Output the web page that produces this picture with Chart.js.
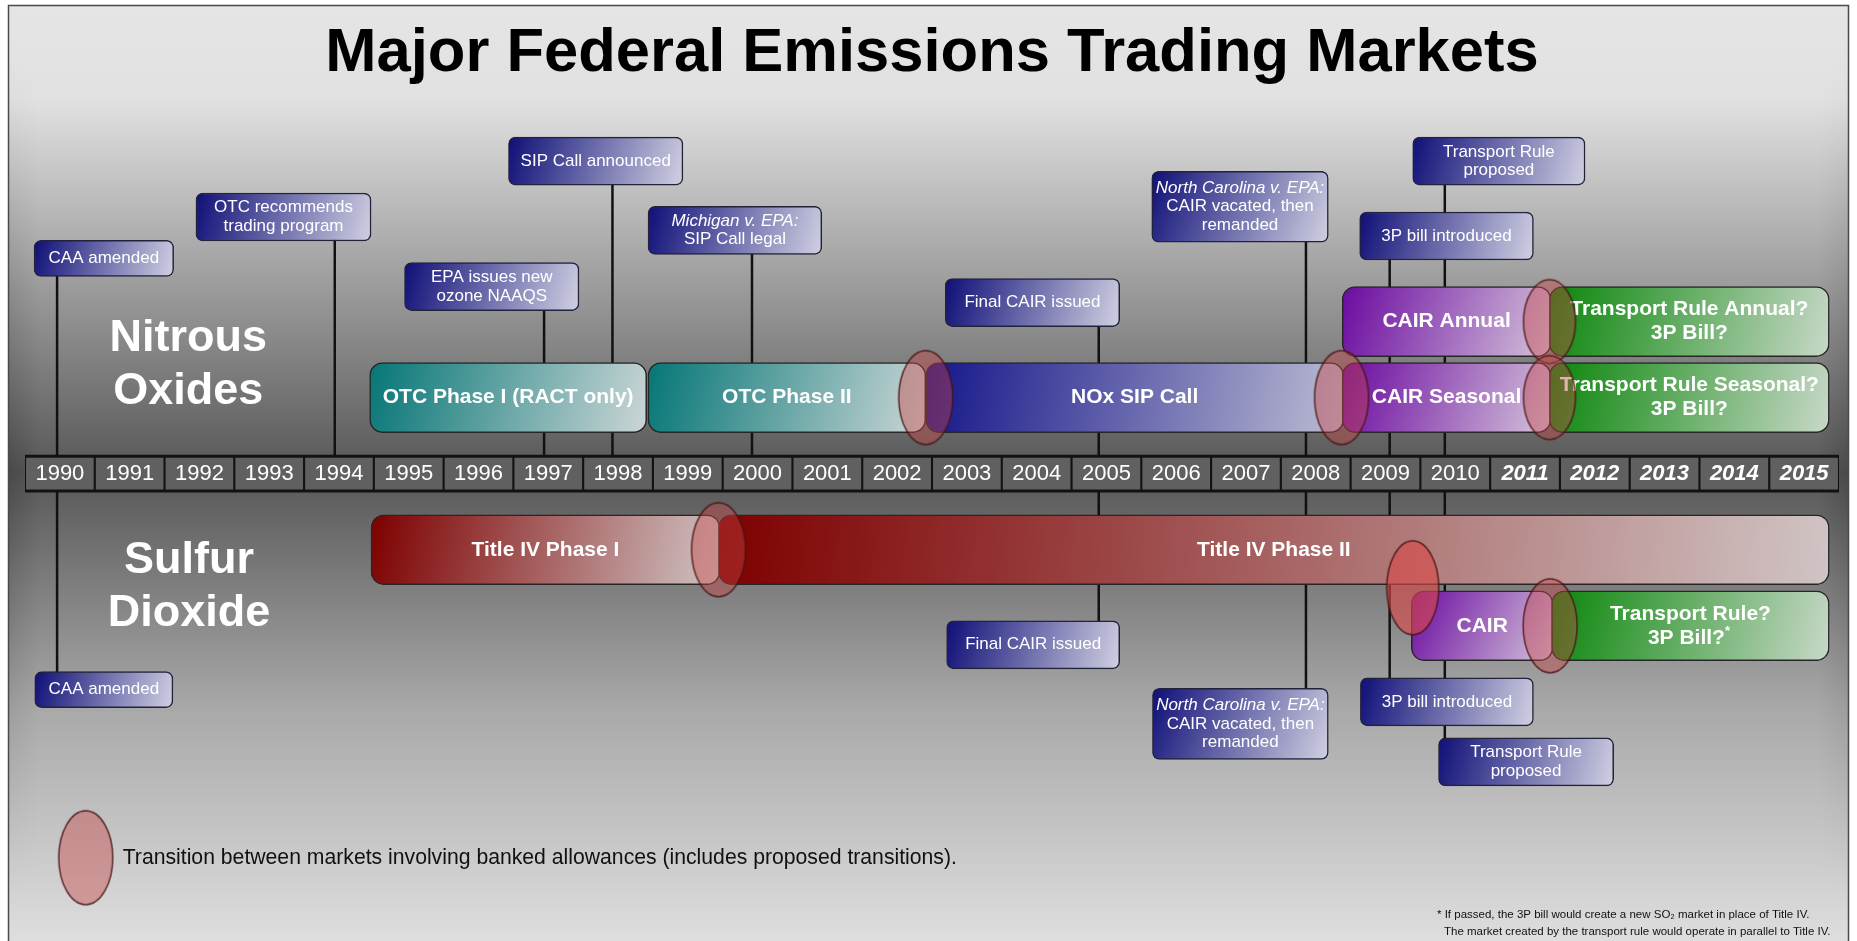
<!DOCTYPE html>
<html>
<head>
<meta charset="utf-8">
<title>Major Federal Emissions Trading Markets</title>
<script src="https://cdn.jsdelivr.net/npm/chart.js@4.4.0/dist/chart.umd.min.js"></script>
<style>
  html, body { margin: 0; padding: 0; background: #fff; }
  #wrap { position: relative; width: 1857px; height: 941px; }
</style>
</head>
<body>
<div id="wrap"><canvas id="chart"></canvas></div>
<script>
const FONT = '"Liberation Sans", Arial, Helvetica, sans-serif'

// timeline
const years = [1990, 1991, 1992, 1993, 1994, 1995, 1996, 1997, 1998, 1999, 2000, 2001, 2002,
               2003, 2004, 2005, 2006, 2007, 2008, 2009, 2010, 2011, 2012, 2013, 2014, 2015]
const yearLabels = ['1990', '1991', '1992', '1993', '1994', '1995', '1996', '1997', '1998', '1999', '2000', '2001', '2002',
                    '2003', '2004', '2005', '2006', '2007', '2008', '2009', '2010', '2011', '2012', '2013', '2014', '2015']
const proposedFrom = 2011

// markets (row: 1/2 = NOx lanes, -1/-2 = SO2 lanes)
const marketNames = ['OTC Phase I (RACT only)', 'OTC Phase II', 'NOx SIP Call', 'CAIR Seasonal',
                     'Transport Rule Seasonal?\n3P Bill?', 'CAIR Annual', 'Transport Rule Annual?\n3P Bill?',
                     'Title IV Phase I', 'Title IV Phase II', 'CAIR', 'Transport Rule?\n3P Bill?*']
const marketStart = [1994.44, 1998.43, 2002.41, 2008.38, 2011.35, 2008.38, 2011.35, 1994.46, 1999.44, 2009.37, 2011.38]
const marketEnd   = [1998.41, 2002.41, 2008.40, 2011.37, 2015.36, 2011.37, 2015.36, 1999.46, 2015.36, 2011.40, 2015.36]
const marketRow   = [1, 1, 1, 1, 1, 2, 2, -1, -1, -2, -2]
const marketProgram = ['OTC', 'OTC', 'SIP', 'CAIR', 'TR', 'CAIR', 'TR', 'TitleIV', 'TitleIV', 'CAIR', 'TR']

// transitions with banked allowances
const transitionYears = [2002.41, 2008.37, 2011.35, 2011.35, 1999.44, 2009.39, 2011.36]
const transitionRows  = [1, 1, 2, 1, -1, -1.5, -2]

// events
const eventLabels = [
  'CAA amended', 'OTC recommends\ntrading program', 'EPA issues new\nozone NAAQS', 'SIP Call announced',
  'Michigan v. EPA:\nSIP Call legal', 'Final CAIR issued', 'North Carolina v. EPA:\nCAIR vacated, then\nremanded',
  '3P bill introduced', 'Transport Rule\nproposed',
  'CAA amended', 'Final CAIR issued', 'North Carolina v. EPA:\nCAIR vacated, then\nremanded',
  '3P bill introduced', 'Transport Rule\nproposed'
]
const eventYears = [1989.96, 1993.94, 1996.94, 1997.92, 1999.92, 2004.89, 2007.86, 2009.06, 2009.85,
                    1989.96, 2004.89, 2007.86, 2009.06, 2009.85]

const regionNames = ['Nitrous\nOxides', 'Sulfur\nDioxide']
const legendText = 'Transition between markets involving banked allowances (includes proposed transitions).'
const footnote = ['* If passed, the 3P bill would create a new SO\u2082 market in place of Title IV.',
                  'The market created by the transport rule would operate in parallel to Title IV.']

// ---- layout / styling ----
// event boxes: [left, right] in years, lane, box size
const boxSpots = [
  [1989.63, 1991.63, 2.83, 'sm'], [1991.95, 1994.46, 3.375, 'md'], [1994.94, 1997.44, 2.46, 'md'],
  [1996.43, 1998.93, 4.11, 'md'], [1998.43, 2000.92, 3.2, 'md'], [2002.69, 2005.19, 2.25, 'md'],
  [2005.65, 2008.18, 3.51, 'lg'], [2008.63, 2011.12, 3.125, 'md'], [2009.39, 2011.86, 4.11, 'md'],
  [1989.64, 1991.62, -2.84, 'sm'], [2002.71, 2005.19, -2.25, 'md'], [2005.66, 2008.18, -3.29, 'lg'],
  [2008.64, 2011.12, -3.0, 'md'], [2009.76, 2012.27, -3.79, 'md']
]
const boxHeights = { sm: 36, md: 48, lg: 71 }
const regionSpots = [[1991.84, 1.43], [1991.85, -1.49]]
const legendSpot = [1990.37, -5.05]
const marketThickness = 70

const programColors = {
  OTC: ['#067676', '#cbd6d6'],
  SIP: ['#15158a', '#bcbcd3'],
  CAIR: ['#6b0aa0', '#d4c4da'],
  TR: ['#0a860a', '#c8d8c8'],
  TitleIV: ['#7e0000', '#d0c4c4'],
}
const eventColors = ['#0f0f78', '#d0d0e2']
const transitionLook = ['std', 'std', 'short', 'short', 'std', 'red', 'std']

function ellipseImage(rx, ry, fill, stroke) {
  const c = document.createElement('canvas')
  c.width = rx * 2 + 4
  c.height = ry * 2 + 4
  const g = c.getContext('2d')
  g.beginPath()
  g.ellipse(rx + 2, ry + 2, rx, ry, 0, 0, Math.PI * 2)
  g.fillStyle = fill
  g.fill()
  g.lineWidth = 1.5
  g.strokeStyle = stroke
  g.stroke()
  return c
}
const ellipses = {
  std: ellipseImage(27, 47, 'rgba(200,70,70,0.42)', 'rgba(70,20,20,0.85)'),
  short: ellipseImage(26, 42, 'rgba(200,70,70,0.42)', 'rgba(70,20,20,0.85)'),
  red: ellipseImage(26, 47, 'rgba(218,72,72,0.62)', 'rgba(70,20,20,0.85)'),
}

// gradient over a box, dark at the start, light at the end
function shade(c, from, to, lane, thick, colors) {
  const chart = c.chart
  if (!chart.chartArea) return colors[0]
  const xs = chart.scales.x, ys = chart.scales.y
  const x0 = xs.getPixelForValue(from), x1 = xs.getPixelForValue(to)
  const yc = ys.getPixelForValue(lane)
  const g = chart.ctx.createLinearGradient(x0, yc - thick / 2, x1, yc + thick / 2)
  g.addColorStop(0, colors[0])
  g.addColorStop(1, colors[1])
  return g
}

function writeLines(ctx, lines, cx, cy, lineH, fontFor) {
  const top = cy - (lines.length - 1) * lineH / 2
  lines.forEach((line, k) => {
    ctx.font = fontFor(line)
    if (line.endsWith('*')) {
      // small raised asterisk
      const body = line.slice(0, -1)
      const w = ctx.measureText(body).width
      ctx.fillText(body, cx - 4, top + k * lineH)
      const f = ctx.font
      ctx.font = f.replace(/\d+(\.\d+)?px/, '13px')
      ctx.textAlign = 'left'
      ctx.fillText('*', cx - 4 + w / 2, top + k * lineH - 6)
      ctx.textAlign = 'center'
      ctx.font = f
      return
    }
    ctx.fillText(line, cx, top + k * lineH)
  })
}

const backdrop = {
  id: 'backdrop',
  beforeDraw(chart) {
    const { ctx, width, height } = chart
    ctx.save()
    ctx.fillStyle = '#fff'
    ctx.fillRect(0, 0, width, height)
    const g = ctx.createLinearGradient(0, 5, 0, height)
    g.addColorStop(0, '#e5e5e5')
    g.addColorStop(0.1, '#e1e1e1')
    g.addColorStop(0.5, '#575757')
    g.addColorStop(0.75, '#a8a8a8')
    g.addColorStop(1, '#dedede')
    ctx.fillStyle = g
    ctx.fillRect(9, 6, width - 18, height)
    // darker strips along the side edges, strongest around the middle
    const l = ctx.createLinearGradient(9, 0, 40, 0)
    l.addColorStop(0, 'rgba(0,0,0,0.16)')
    l.addColorStop(1, 'rgba(0,0,0,0)')
    const r = ctx.createLinearGradient(width - 9, 0, width - 40, 0)
    r.addColorStop(0, 'rgba(0,0,0,0.16)')
    r.addColorStop(1, 'rgba(0,0,0,0)')
    for (let y = 6; y < height; y += 4) {
      const t = Math.max(0, 1 - Math.abs(y - 474) / 420)
      ctx.globalAlpha = t
      ctx.fillStyle = l
      ctx.fillRect(9, y, 31, 4)
      ctx.fillStyle = r
      ctx.fillRect(width - 40, y, 31, 4)
    }
    ctx.globalAlpha = 1
    ctx.strokeStyle = '#4a4a4a'
    ctx.lineWidth = 1.5
    ctx.strokeRect(8.5, 5.5, width - 17, height + 10)
    ctx.restore()
  }
}

const texts = {
  id: 'texts',
  afterDatasetDraw(chart, args) {
    const ds = chart.data.datasets[args.index]
    const ctx = chart.ctx
    ctx.save()
    ctx.fillStyle = '#fff'
    ctx.textAlign = 'center'
    ctx.textBaseline = 'middle'
    if (ds.role === 'markets') {
      args.meta.data.forEach((bar, i) => {
        writeLines(ctx, marketNames[i].split('\n'), (bar.x + bar.base) / 2, bar.y, 24, () => `bold 21px ${FONT}`)
      })
    }
    if (ds.role === 'events') {
      args.meta.data.forEach((box, j) => {
        const lines = eventLabels[ds.members[j]].split('\n')
        writeLines(ctx, lines, (box.x + box.base) / 2, box.y, 18.5,
          line => (line.endsWith(':') ? 'italic ' : '') + `17px ${FONT}`)
      })
    }
    ctx.restore()
  },
  afterDraw(chart) {
    const ctx = chart.ctx
    const xs = chart.scales.x, ys = chart.scales.y
    ctx.save()
    ctx.textBaseline = 'middle'

    // pollutant names
    ctx.fillStyle = '#fff'
    ctx.textAlign = 'center'
    regionNames.forEach((name, i) => {
      writeLines(ctx, name.split('\n'), xs.getPixelForValue(regionSpots[i][0]), ys.getPixelForValue(regionSpots[i][1]),
        53, () => `bold 45px ${FONT}`)
    })

    // legend
    const lx = xs.getPixelForValue(legendSpot[0]), ly = ys.getPixelForValue(legendSpot[1])
    const img = ellipses.std
    ctx.drawImage(img, lx - img.width / 2, ly - img.height / 2)
    ctx.fillStyle = '#111'
    ctx.textAlign = 'left'
    ctx.font = `21.2px ${FONT}`
    ctx.fillText(legendText, lx + 37, ly)

    // footnote
    ctx.font = `11.5px ${FONT}`
    ctx.fillText(footnote[0], chart.width - 420, chart.height - 26)
    ctx.fillText(footnote[1], chart.width - 413, chart.height - 9)
    ctx.restore()
  }
}

// vertical connectors from the year row to each event box
const connectorPoints = []
eventYears.forEach((yr, i) => {
  connectorPoints.push({ x: yr, y: 0 }, { x: yr, y: boxSpots[i][2] }, { x: yr, y: null })
})

const eventDatasets = ['sm', 'md', 'lg'].map(size => {
  const members = eventLabels.map((_, i) => i).filter(i => boxSpots[i][3] === size)
  return {
    role: 'events', members, type: 'bar', stack: 'all', order: 2,
    barThickness: boxHeights[size],
    data: members.map(i => ({ x: [boxSpots[i][0], boxSpots[i][1]], y: boxSpots[i][2] })),
    backgroundColor: c => {
      if (c.dataIndex === undefined) return eventColors[0]
      const s = boxSpots[members[c.dataIndex]]
      return shade(c, s[0], s[1], s[2], boxHeights[size], eventColors)
    },
    borderColor: '#22223a', borderWidth: 1.5, borderRadius: 7, borderSkipped: false,
  }
})

new Chart(document.getElementById('chart'), {
  type: 'bar',
  data: {
    datasets: [
      {
        role: 'connectors', type: 'line', indexAxis: 'x', order: 6,
        data: connectorPoints,
        borderColor: '#111', borderWidth: 2.5, pointRadius: 0, spanGaps: false, tension: 0,
      },
      {
        role: 'frame', type: 'bar', stack: 'all', order: 5, barThickness: 37,
        data: [{ x: [years[0] - 0.5, years[years.length - 1] + 0.5], y: 0 }],
        backgroundColor: '#121212', borderWidth: 0,
      },
      {
        role: 'cells', type: 'bar', stack: 'all', order: 4, barThickness: 31,
        data: years.map(v => ({ x: [v - 0.48, v + 0.48], y: 0 })),
        backgroundColor: '#606060', borderWidth: 0,
      },
      {
        role: 'markets', type: 'bar', stack: 'all', order: 3, barThickness: marketThickness,
        data: marketNames.map((_, i) => ({ x: [marketStart[i], marketEnd[i]], y: marketRow[i] })),
        backgroundColor: c => {
          if (c.dataIndex === undefined) return '#888'
          const i = c.dataIndex
          return shade(c, marketStart[i], marketEnd[i], marketRow[i], marketThickness, programColors[marketProgram[i]])
        },
        borderColor: '#262626', borderWidth: 1.5, borderRadius: 13, borderSkipped: false,
      },
      ...eventDatasets,
      {
        role: 'transitions', type: 'scatter', indexAxis: 'x', order: 0,
        data: transitionYears.map((x, i) => ({ x, y: transitionRows[i] })),
        pointStyle: c => ellipses[transitionLook[c.dataIndex]] || ellipses.std,
        pointRadius: 10,
      },
    ]
  },
  options: {
    indexAxis: 'y',
    responsive: true,
    maintainAspectRatio: false,
    devicePixelRatio: 1,
    animation: false,
    events: [],
    layout: { padding: { left: 25, right: 18, top: 0, bottom: 11 } },
    scales: {
      x: {
        type: 'linear', min: 1989.5, max: 2015.5, offset: false, stacked: false,
        position: { y: 0 },
        grid: { display: false, drawTicks: false, tickLength: 0 },
        border: { display: false },
        afterBuildTicks: axis => { axis.ticks = years.map(v => ({ value: v })) },
        ticks: {
          z: 1, autoSkip: false, maxRotation: 0, minRotation: 0, padding: -13.2, color: '#fff',
          callback: (v, i) => yearLabels[i],
          font: c => {
            const later = c.tick && c.tick.value >= proposedFrom
            return { family: FONT, size: 22, style: later ? 'italic' : 'normal', weight: later ? 'bold' : 'normal' }
          },
        },
      },
      y: { type: 'linear', min: -6, max: 5.1, offset: false, display: false },
    },
    plugins: {
      legend: { display: false },
      tooltip: { enabled: false },
      title: {
        display: true,
        text: 'Major Federal Emissions Trading Markets',
        color: '#000',
        font: { family: FONT, size: 61.5, weight: 'bold' },
        padding: { top: 17, bottom: -5 },
      },
    },
  },
  plugins: [backdrop, texts],
})
</script>
</body>
</html>
